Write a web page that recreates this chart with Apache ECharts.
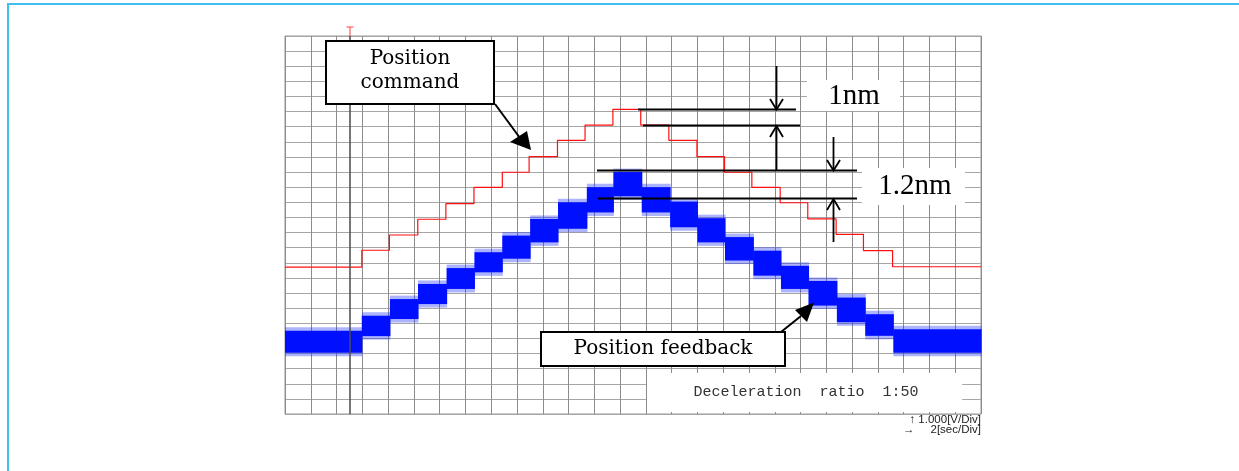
<!DOCTYPE html>
<html>
<head>
<meta charset="utf-8">
<script src="https://cdn.jsdelivr.net/npm/echarts@6/dist/echarts.min.js"></script>
<style>
  html, body { margin: 0; padding: 0; background: #fff; }
  #frame { position: absolute; left: 7px; top: 3px; width: 1232px; height: 468px;
           border-top: 2px solid #3fbfec; border-left: 2px solid #3fbfec; box-sizing: border-box; }
  #chart { position: absolute; left: 0; top: 0; width: 1239px; height: 471px; }
</style>
</head>
<body>
<div id="frame"></div>
<div id="chart"></div>
<script>
// ---- Data (in divisions: x = time div, y = voltage div) ----
// Position command: step start times and levels
const cmdStepTimes = [0, 2.98, 4.05, 5.15, 6.24, 7.33, 8.43, 9.47, 10.57, 11.64, 12.72,
                      13.80, 14.89, 15.98, 17.05, 18.11, 19.21, 20.28, 21.38, 22.44, 23.57];
const cmdLevels = [9.72, 10.83, 11.84, 12.88, 13.91, 14.99, 15.99, 17.02, 18.10, 19.11, 20.15,
                   19.11, 18.10, 17.02, 15.99, 14.99, 13.97, 12.90, 11.88, 10.81, 9.74];
const timeEnd = 27;

// Position feedback: step edges and noise band (lower / upper envelope)
const fbStepTimes = [0, 2.98, 4.07, 5.16, 6.27, 7.35, 8.43, 9.51, 10.59, 11.71, 12.74,
                     13.84, 14.94, 16.00, 17.07, 18.17, 19.24, 20.31, 21.41, 22.51, 23.60, 27];
const fbUpper = [5.50, 6.50, 7.60, 8.60, 9.65, 10.70, 11.80, 12.90, 14.00, 15.00, 16.00,
                 15.00, 14.05, 12.95, 11.70, 10.80, 9.80, 8.80, 7.70, 6.60, 5.60];
const fbLower = [4.05, 5.15, 6.28, 7.27, 8.27, 9.37, 10.27, 11.35, 12.25, 13.33, 14.40,
                 13.33, 12.35, 11.35, 10.15, 9.15, 8.27, 7.17, 6.07, 5.17, 4.05];

// ---- Build series data ----
const cmdData = cmdStepTimes.map((t, i) => [t, cmdLevels[i]]);
cmdData.push([timeEnd, cmdLevels[cmdLevels.length - 1]]);

const fbData = fbUpper.map((u, i) => [fbStepTimes[i], fbStepTimes[i + 1], fbLower[i], u]);

const chart = echarts.init(document.getElementById('chart'), null, { renderer: 'canvas' });

const black = '#000';
const lw = 2;
function line(x1, y1, x2, y2, w, c) {
  return { type: 'line', z: 100, shape: { x1, y1, x2, y2 }, style: { stroke: c || black, lineWidth: w || lw } };
}
function poly(points, fill, stroke, w) {
  return { type: 'polyline', z: 101, shape: { points }, style: { stroke: stroke || black, lineWidth: w || 2, fill: fill || null } };
}
function tri(points) {
  return { type: 'polygon', z: 101, shape: { points }, style: { fill: black } };
}

const serif = '"DejaVu Serif", serif';
const times = '"Liberation Serif", "Times New Roman", serif';

const option = {
  animation: false,
  backgroundColor: 'transparent',
  grid: { left: 285, top: 36, width: 696, height: 378, show: true, borderColor: '#999', borderWidth: 1, backgroundColor: 'transparent' },
  xAxis: {
    type: 'value', min: 0, max: 27, interval: 1,
    axisLabel: { show: false }, axisTick: { show: false }, axisLine: { show: false },
    splitLine: { show: true, lineStyle: { color: '#8c8c8c', width: 1 } }
  },
  yAxis: {
    type: 'value', min: 0, max: 25, interval: 1,
    axisLabel: { show: false }, axisTick: { show: false }, axisLine: { show: false },
    splitLine: { show: true, lineStyle: { color: '#a6a6a6', width: 1 } }
  },
  series: [
    {
      name: 'Position command', type: 'line', step: 'end', data: cmdData,
      symbol: 'none', lineStyle: { color: '#ff1010', width: 1.2 }, z: 3
    },
    {
      name: 'Position feedback', type: 'custom', data: fbData,
      encode: { x: [0, 1], y: [2, 3] }, z: 4,
      renderItem: function (params, api) {
        const p0 = api.coord([api.value(0), api.value(3)]);
        const p1 = api.coord([api.value(1), api.value(2)]);
        const w = p1[0] - p0[0] + 0.5;
        const h = p1[1] - p0[1];
        return {
          type: 'group',
          children: [
            { type: 'rect', shape: { x: p0[0], y: p0[1] - 3.5, width: w, height: h + 7 },
              style: { fill: 'rgba(20,40,255,0.35)' } },
            { type: 'rect', shape: { x: p0[0], y: p0[1], width: w, height: h },
              style: { fill: '#0010ff' } }
          ]
        };
      }
    }
  ],
  graphic: [
    // trigger marker
    line(350, 36, 350, 414, 1.5, '#4a4a4a'),
    line(346.5, 27, 353.5, 27, 1.2, '#ff5a5a'),
    line(350, 27, 350, 36, 1.2, '#ff5a5a'),

    // Position command box + arrow
    { type: 'rect', z: 102, shape: { x: 326, y: 41, width: 168, height: 63 },
      style: { fill: '#fff', stroke: black, lineWidth: 2 } },
    { type: 'text', z: 103, style: { x: 410, y: 59, text: 'Position', font: '20px ' + serif, fill: black, textAlign: 'center', textVerticalAlign: 'middle' } },
    { type: 'text', z: 103, style: { x: 410, y: 83, text: 'command', font: '20px ' + serif, fill: black, textAlign: 'center', textVerticalAlign: 'middle' } },
    line(495, 104, 520, 138, 2),
    tri([[510, 142], [527, 131], [531, 150]]),

    // 1nm measurement
    line(638, 109.5, 796, 109.5, 2),
    line(643, 125.5, 800, 125.5, 2),
    line(776.5, 66, 776.5, 109, 1.8),
    poly([[770, 99], [776.5, 109.5], [783, 99]], null, black, 1.8),
    line(776.5, 126, 776.5, 170, 1.8),
    poly([[770, 137], [776.5, 126], [783, 137]], null, black, 1.8),
    { type: 'rect', z: 102, shape: { x: 807, y: 80, width: 93, height: 31 }, style: { fill: '#fff' } },
    { type: 'text', z: 103, style: { x: 854, y: 96, text: '1nm', font: '29px ' + times, fill: black, textAlign: 'center', textVerticalAlign: 'middle' } },

    // 1.2nm measurement
    line(597, 170.5, 857, 170.5, 2),
    line(598, 198.5, 857, 198.5, 2),
    line(833.5, 137, 833.5, 170, 1.8),
    poly([[827, 160], [833.5, 170.5], [840, 160]], null, black, 1.8),
    line(833.5, 199, 833.5, 242, 1.8),
    poly([[827, 210], [833.5, 199], [840, 210]], null, black, 1.8),
    { type: 'rect', z: 102, shape: { x: 862, y: 168, width: 103, height: 37 }, style: { fill: '#fff' } },
    { type: 'text', z: 103, style: { x: 915, y: 186, text: '1.2nm', font: '29px ' + times, fill: black, textAlign: 'center', textVerticalAlign: 'middle' } },

    // Position feedback box + arrow
    { type: 'rect', z: 102, shape: { x: 541, y: 332, width: 244, height: 34 },
      style: { fill: '#fff', stroke: black, lineWidth: 2 } },
    { type: 'text', z: 103, style: { x: 663, y: 349, text: 'Position feedback', font: '20px ' + serif, fill: black, textAlign: 'center', textVerticalAlign: 'middle' } },
    line(781, 332, 801, 316, 2),
    tri([[795, 310], [807, 322], [814, 302.5]]),

    // Deceleration ratio
    { type: 'rect', z: 102, shape: { x: 647, y: 373, width: 315, height: 39 }, style: { fill: '#fff' } },
    { type: 'text', z: 103, style: { x: 806, y: 392, text: 'Deceleration  ratio  1:50', font: '15px "Liberation Mono", monospace', fill: '#333', textAlign: 'center', textVerticalAlign: 'middle' } },

    // scale notes
    { type: 'text', z: 103, style: { x: 981, y: 420, text: '\u2191 1.000[V/Div]', font: '11.5px "Liberation Sans", "DejaVu Sans", sans-serif', fill: '#222', textAlign: 'right', textVerticalAlign: 'middle' } },
    { type: 'text', z: 103, style: { x: 981, y: 430, text: '\u2192     2[sec/Div]', font: '11.5px "Liberation Sans", "DejaVu Sans", sans-serif', fill: '#222', textAlign: 'right', textVerticalAlign: 'middle' } }
  ]
};
chart.setOption(option);
</script>
</body>
</html>
